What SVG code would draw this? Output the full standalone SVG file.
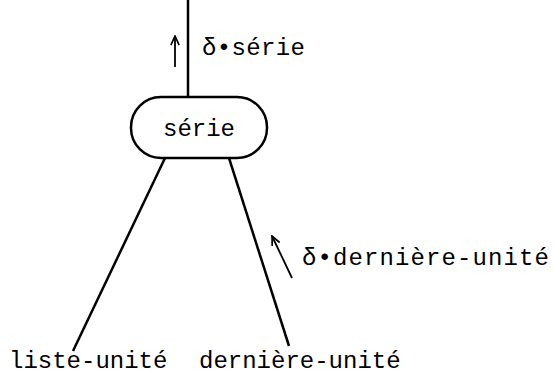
<svg xmlns="http://www.w3.org/2000/svg" width="554" height="381" viewBox="0 0 554 381">
<style>
text{font-family:"Liberation Mono","Courier New",monospace;font-size:24px;fill:#000}
.ln{stroke:#000;stroke-width:2.5;fill:none}
.ar{stroke:#000;stroke-width:1.8;fill:none}
</style>
<defs>
<marker id="ah" viewBox="0 0 12 12" refX="11" refY="6" markerWidth="11" markerHeight="11" markerUnits="userSpaceOnUse" orient="auto">
<polyline points="1,1.5 11,6 1,10.5" fill="none" stroke="#000" stroke-width="1.8"/>
</marker>
</defs>
<rect width="554" height="381" fill="#fff"/>
<g id="connectors">
<line class="ln" x1="188" y1="0" x2="188" y2="97"/>
<line class="ln" x1="165" y1="158" x2="73" y2="351"/>
<line class="ln" x1="229" y1="158" x2="289" y2="346"/>
<line class="ar" x1="175" y1="67" x2="175" y2="36" marker-end="url(#ah)"/>
<line class="ar" x1="292" y1="278" x2="272" y2="236" marker-end="url(#ah)"/>
<text x="202" y="55" textLength="103" lengthAdjust="spacing">δ•série</text>
<text x="302" y="265" textLength="247" lengthAdjust="spacing">δ•dernière-unité</text>
</g>
<g id="serie">
<rect class="ln" x="131" y="97" width="136" height="61" rx="30" ry="30" fill="#fff"/>
<text x="199" y="136" text-anchor="middle">série</text>
</g>
<g id="liste-unite">
<text x="9" y="368">liste-unité</text>
</g>
<g id="derniere-unite">
<text x="199" y="368">dernière-unité</text>
</g>
</svg>
